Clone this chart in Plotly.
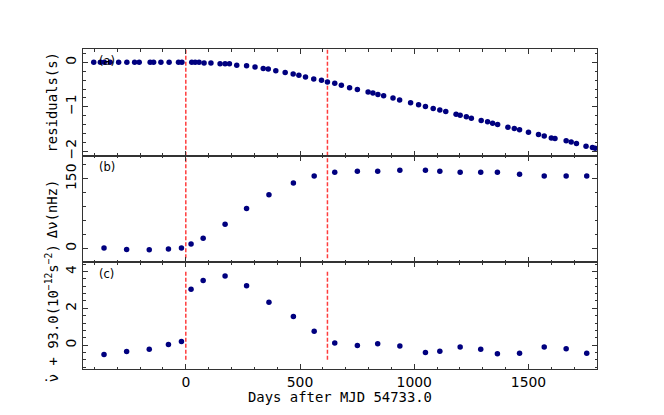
import plotly.graph_objects as go
from plotly.subplots import make_subplots

# ---- data ----
days_a = [-403, -374, -357, -331, -294, -258, -224, -204, -156, -141, -109, -73, -32, -17,
          26, 41, 58, 80, 110, 150, 172, 191, 223, 266, 303, 339, 361, 394, 435, 470, 495,
          524, 560, 594, 620, 652, 681, 717, 751, 798, 819, 841, 866, 907, 936, 984, 1019,
          1049, 1083, 1112, 1138, 1183, 1201, 1228, 1250, 1293, 1321, 1343, 1365, 1410,
          1438, 1461, 1500, 1544, 1569, 1600, 1616, 1665, 1687, 1710, 1752, 1780, 1792]
resid = [0, 0, 0, 0, 0, 0, 0, 0, 0, 0, 0, 0, 0, 0,
         0, 0, 0, -0.015, -0.015, -0.03, -0.03, -0.03, -0.067, -0.075, -0.105, -0.14, -0.15,
         -0.19, -0.23, -0.26, -0.29, -0.33, -0.375, -0.405, -0.445, -0.473, -0.518, -0.571,
         -0.609, -0.669, -0.692, -0.722, -0.752, -0.804, -0.849, -0.910, -0.955, -0.993,
         -1.038, -1.075, -1.105, -1.166, -1.188, -1.226, -1.256, -1.309, -1.339, -1.369,
         -1.399, -1.459, -1.489, -1.519, -1.572, -1.625, -1.655, -1.700, -1.715, -1.767,
         -1.790, -1.828, -1.888, -1.918, -1.933]

days_bc = [-358, -259, -160, -76, -19, 23, 76, 172, 266, 364, 471, 562, 652, 751, 840, 937,
           1049, 1112, 1201, 1291, 1364, 1461, 1569, 1665, 1755]
dnu = [0.7, -2.1, -2.9, -1.4, 0.7, 9.3, 22, 52, 86, 116, 141, 156, 164.5, 166.4, 166.4,
       168.6, 168.6, 166.4, 164.3, 164.3, 164.3, 160, 156.4, 156.4, 156.4]
nudot = [-0.51, -0.345, -0.22, 0.036, 0.2, 3.04, 3.51, 3.76, 3.22, 2.33, 1.55, 0.75, 0.11,
         -0.018, 0.073, -0.055, -0.4, -0.33, -0.11, -0.22, -0.47, -0.45, -0.11, -0.2, -0.44]

glitch_days = [0, 620]
vline_extent = [[-2.1, 0.3], [-21, 200], [-0.8, 4.0]]
panel_labels = ["(a)", "(b)", "(c)"]
y_titles = ["residuals(s)", "Δν(nHz)",
            "ν + 93.0(10<sup>−12</sup>s<sup>−2</sup>)"]
x_title = "Days after MJD 54733.0"

x_range = [-450, 1800]
y_ranges = [[-2.1, 0.3], [-30, 200], [-1.3, 4.5]]
y_dticks = [1, 150, 2]
y_minor = [0.2, 30, 0.4]

MONO = "DejaVu Sans Mono"
SANS = "DejaVu Sans"
MARK = "#00007f"
FRAME = "#333333"

fig = make_subplots(rows=3, cols=1, shared_xaxes=True, vertical_spacing=0)

series = [(days_a, resid), (days_bc, dnu), (days_bc, nudot)]
for i, (xs, ys) in enumerate(series, start=1):
    for gd in glitch_days:
        fig.add_trace(go.Scatter(x=[gd, gd], y=vline_extent[i - 1], mode="lines",
                                 line=dict(color="rgba(255,40,40,0.9)", width=1.5,
                                           dash="4px,2px"),
                                 showlegend=False, hoverinfo="skip"), row=i, col=1)
    fig.add_trace(go.Scatter(x=xs, y=ys, mode="markers",
                             marker=dict(color=MARK, size=5.5, line=dict(width=0)),
                             showlegend=False, cliponaxis=True), row=i, col=1)

axis_common = dict(showline=True, linecolor=FRAME, linewidth=1, mirror="ticks",
                   ticks="inside", ticklen=5, tickwidth=1, tickcolor=FRAME,
                   showgrid=False, zeroline=False, automargin=False,
                   tickfont=dict(family=SANS, size=13.9, color="black"))

for i in range(1, 4):
    fig.update_xaxes(range=x_range, dtick=500, tick0=0,
                     minor=dict(ticks="inside", dtick=100, tick0=0, ticklen=2.5,
                                tickcolor=FRAME, tickwidth=1),
                     **axis_common, row=i, col=1)
    fig.update_yaxes(range=y_ranges[i - 1], dtick=y_dticks[i - 1], tick0=0, tickangle=-90,
                     minor=dict(ticks="inside", dtick=y_minor[i - 1], tick0=0, ticklen=2.5,
                                tickcolor=FRAME, tickwidth=1),
                     **axis_common, row=i, col=1)

annotations = []
yrefs = ["y domain", "y2 domain", "y3 domain"]
xrefs = ["x domain", "x2 domain", "x3 domain"]
for i in range(3):
    annotations.append(dict(text=panel_labels[i], xref=xrefs[i], yref=yrefs[i],
                            x=0.027, y=0.89, xanchor="left", yanchor="middle",
                            showarrow=False, font=dict(family=SANS, size=11.5, color="black")))
for i in range(2):
    annotations.append(dict(text=y_titles[i], xref="paper", yref=yrefs[i],
                            x=-0.060, y=0.5, xanchor="center",
                            yanchor="middle", textangle=-90, showarrow=False,
                            font=dict(family=MONO, size=13.9, color="black")))
# third y title anchored at its bottom, plus the "dot" of nu-dot
annotations.append(dict(text=y_titles[2], xref="paper", yref="paper",
                        x=-0.060, y=-0.047, xanchor="center", yanchor="bottom",
                        textangle=-90, showarrow=False,
                        font=dict(family=MONO, size=13.9, color="black")))
annotations.append(dict(text="·", xref="paper", yref="paper",
                        x=-0.0726, y=-0.0344, xanchor="center", yanchor="middle",
                        showarrow=False, font=dict(family=SANS, size=13.9, color="black")))
annotations.append(dict(text=x_title, xref="paper", yref="paper", x=0.5, y=-0.0875,
                        xanchor="center", yanchor="middle", showarrow=False,
                        font=dict(family=MONO, size=13.9, color="black")))

# page body adds an 8px margin, so the figure is sized/shifted to compensate
fig.update_layout(width=648, height=399, margin=dict(l=75, r=59, t=41, b=38),
                  paper_bgcolor="white", plot_bgcolor="white",
                  annotations=annotations)

fig.write_html("out.html")
